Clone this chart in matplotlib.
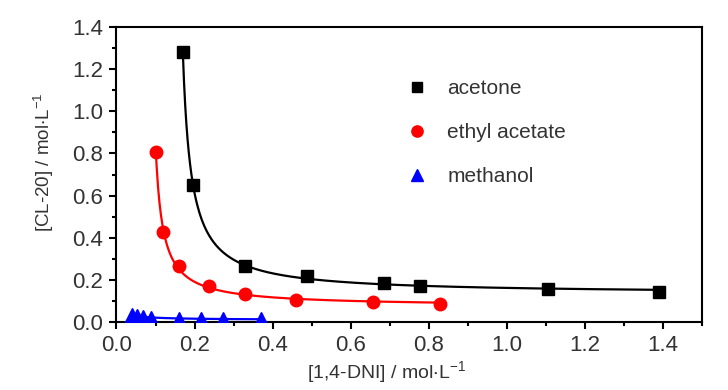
import numpy as np
import matplotlib
matplotlib.use("Agg")
import matplotlib.pyplot as plt
from matplotlib.ticker import MultipleLocator

plt.rcParams["font.family"] = ["Liberation Sans", "DejaVu Sans"]
plt.rcParams["mathtext.fontset"] = "custom"
plt.rcParams["mathtext.rm"] = "Liberation Sans"
plt.rcParams["mathtext.default"] = "regular"

# datos
acetona_x = [0.170, 0.196, 0.330, 0.488, 0.686, 0.778, 1.106, 1.391]
acetona_y = [1.283, 0.651, 0.268, 0.217, 0.185, 0.171, 0.157, 0.143]

etil_x = [0.101, 0.120, 0.159, 0.238, 0.329, 0.460, 0.658, 0.828]
etil_y = [0.808, 0.426, 0.268, 0.170, 0.133, 0.103, 0.096, 0.088]

metanol_x = [0.039, 0.052, 0.067, 0.088, 0.159, 0.216, 0.274, 0.371]
metanol_y = [0.032, 0.030, 0.026, 0.021, 0.017, 0.016, 0.015, 0.014]


def ajuste(x, y):
    # y = a + b/(x - c), c por busqueda, a y b por minimos cuadrados
    x = np.asarray(x)
    y = np.asarray(y)
    mejor = None
    for c in np.linspace(-1.0, x.min() - 0.002, 3000):
        A = np.column_stack([np.ones_like(x), 1.0 / (x - c)])
        coef, *_ = np.linalg.lstsq(A, y, rcond=None)
        err = np.sum((A @ coef - y) ** 2)
        if mejor is None or err < mejor[0]:
            mejor = (err, coef, c)
    _, (a, b), c = mejor
    xs = np.linspace(x.min(), x.max(), 400)
    return xs, a + b / (xs - c)


fig = plt.figure(figsize=(7.28, 3.9), dpi=100)
ax = fig.add_axes([0.160, 0.174, 0.804, 0.757])

series = [
    (acetona_x, acetona_y, "black", "s", 8, "acetone"),
    (etil_x, etil_y, "red", "o", 9, "ethyl acetate"),
    (metanol_x, metanol_y, "blue", "^", 10, "methanol"),
]

for x, y, col, mk, ms, nombre in series:
    xs, ys = ajuste(x, y)
    ax.plot(xs, ys, color=col, lw=1.6, zorder=2)
    ax.plot(x, y, ls="none", marker=mk, color=col, ms=ms, label=nombre, zorder=3)

ax.set_xlim(0, 1.5)
ax.set_ylim(0, 1.4)
ax.xaxis.set_major_locator(MultipleLocator(0.2))
ax.xaxis.set_minor_locator(MultipleLocator(0.1))
ax.yaxis.set_major_locator(MultipleLocator(0.2))
ax.yaxis.set_minor_locator(MultipleLocator(0.1))
ax.set_xticks(np.arange(0, 1.41, 0.2))
ax.tick_params(which="major", direction="out", length=5, width=1.5,
               labelsize=16, labelcolor="#333333", pad=4.5)
ax.tick_params(which="minor", direction="out", length=3, width=1.5)
for s in ax.spines.values():
    s.set_linewidth(1.5)

ax.set_xlabel(r"[1,4-DNI] / mol$\cdot$L$^{-1}$", fontsize=14, color="#333333")
ax.set_ylabel(r"[CL-20] / mol$\cdot$L$^{-1}$", fontsize=13.5, color="#333333")
ax.xaxis.set_label_coords(0.462, -0.125)
ax.yaxis.set_label_coords(-0.104, 0.542)

leg = ax.legend(loc="upper left", bbox_to_anchor=(0.4634, 0.886), frameon=False,
                fontsize=15, handletextpad=0.96, labelspacing=1.2,
                markerscale=0.9, handlelength=1.0)
for t in leg.get_texts():
    t.set_color("#333333")

fig.savefig("out.png", dpi=100)
